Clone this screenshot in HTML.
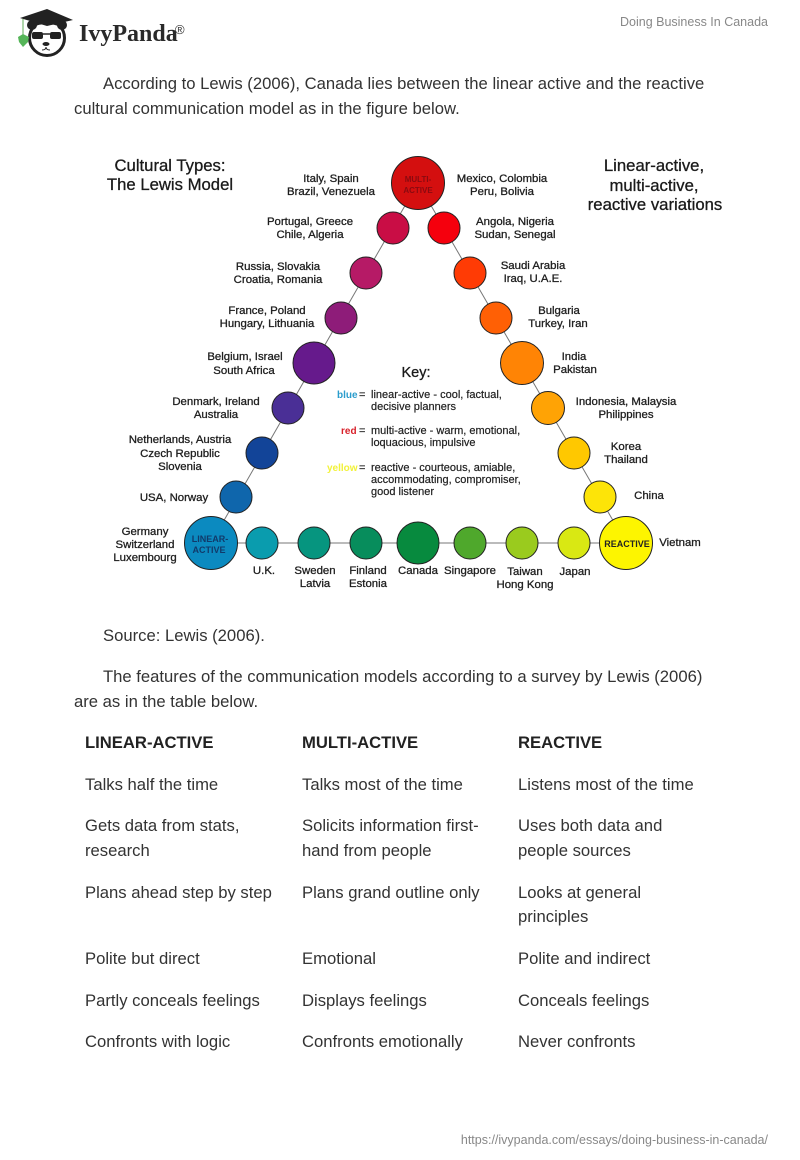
<!DOCTYPE html>
<html><head><meta charset="utf-8">
<style>
html,body{margin:0;padding:0;background:#fff}
body{width:800px;height:1160px;position:relative;overflow:hidden;font-family:"Liberation Sans",Arial,sans-serif;color:#333}
svg{position:absolute;left:0;top:0}
.t{position:absolute;font-size:16.65px;line-height:20px;white-space:nowrap;color:#333}
.b{font-weight:bold;color:#222}
</style></head><body>
<svg width="800" height="1160" viewBox="0 0 800 1160" font-family="Liberation Sans, Arial, sans-serif">
<!-- logo -->
<circle cx="47" cy="38" r="17.5" fill="#fff" stroke="#222" stroke-width="3"/>
<circle cx="32" cy="25" r="5" fill="#222"/><circle cx="62" cy="25" r="5" fill="#222"/>
<path d="M20 18L47 9L73 20L47 26Z" fill="#222"/>
<path d="M32 21L47 25L61 21V27Q47 21 32 27Z" fill="#222"/>
<rect x="32" y="32" width="11" height="7" rx="2" fill="#222"/><rect x="50" y="32" width="11" height="7" rx="2" fill="#222"/>
<path d="M43 34H50" stroke="#222" stroke-width="1.5"/>
<ellipse cx="46" cy="44" rx="3.5" ry="2" fill="#222"/>
<path d="M46 47Q46 50 42 50M46 47Q46 50 50 50" stroke="#222" stroke-width="1" fill="none"/>
<path d="M23 19V35" stroke="#5fae57" stroke-width="1"/>
<path d="M18 37L23 34L29 37L28 42L23 47L19 42Z" fill="#55b558"/>
<text x="79" y="41" font-family="Liberation Serif, serif" font-weight="bold" font-size="24" fill="#2a2a2a">IvyPanda</text>
<text x="175" y="34" font-size="13" fill="#333">®</text>
<text x="768" y="26" text-anchor="end" font-size="12.5" fill="#888">Doing Business In Canada</text>
<text x="768" y="1144" text-anchor="end" font-size="12.5" fill="#888">https://ivypanda.com/essays/doing-business-in-canada/</text>

<!-- connectors -->
<g stroke="#777" stroke-width="1" fill="none">
<path d="M418 183L211 543H626Z"/>
</g>
<!-- nodes -->
<g stroke="#222" stroke-width="1">
<circle cx="418" cy="183" r="26.5" fill="#d40f0f"/>
<circle cx="393" cy="228" r="16" fill="#c90d45"/>
<circle cx="366" cy="273" r="16" fill="#b61a66"/>
<circle cx="341" cy="318" r="16" fill="#8e1c79"/>
<circle cx="314" cy="363" r="21" fill="#661a8c"/>
<circle cx="288" cy="408" r="16" fill="#4a2f96"/>
<circle cx="262" cy="453" r="16" fill="#124498"/>
<circle cx="236" cy="497" r="16" fill="#0f66ac"/>
<circle cx="211" cy="543" r="26.5" fill="#0b8ac0"/>
<circle cx="262" cy="543" r="16" fill="#0a9cae"/>
<circle cx="314" cy="543" r="16" fill="#06957f"/>
<circle cx="366" cy="543" r="16" fill="#078d5c"/>
<circle cx="418" cy="543" r="21" fill="#078a3e"/>
<circle cx="470" cy="543" r="16" fill="#4fa82c"/>
<circle cx="522" cy="543" r="16" fill="#9acb1e"/>
<circle cx="574" cy="543" r="16" fill="#d9e813"/>
<circle cx="626" cy="543" r="26.5" fill="#fdf500"/>
<circle cx="600" cy="497" r="16" fill="#fde408"/>
<circle cx="574" cy="453" r="16" fill="#ffc800"/>
<circle cx="548" cy="408" r="16.5" fill="#ffa305"/>
<circle cx="522" cy="363" r="21.5" fill="#ff8405"/>
<circle cx="496" cy="318" r="16" fill="#ff6005"/>
<circle cx="470" cy="273" r="16" fill="#ff3b05"/>
<circle cx="444" cy="228" r="16" fill="#f5000d"/>
</g>
<!-- node inner labels -->
<g font-weight="bold" text-anchor="middle">
<text x="418" y="182" font-size="8" fill="#8a0a10">MULTI-</text>
<text x="418" y="193" font-size="8" fill="#8a0a10">ACTIVE</text>
<text x="210" y="542" font-size="9" fill="#113a6a">LINEAR-</text>
<text x="209" y="553" font-size="9" fill="#113a6a">ACTIVE</text>
<text x="627" y="547" font-size="9" fill="#222">REACTIVE</text>
</g>
<!-- titles -->
<g font-size="16.7" fill="#1a1a1a" text-anchor="middle" stroke="#1a1a1a" stroke-width=".3">
<text x="170" y="171">Cultural Types:</text>
<text x="170" y="190">The Lewis Model</text>
<text x="654" y="171">Linear-active,</text>
<text x="654" y="191">multi-active,</text>
<text x="655" y="210">reactive variations</text>
<text x="416" y="377" font-size="14.5">Key:</text>
</g>
<!-- country labels -->
<g font-size="11.4" fill="#1e1e1e" text-anchor="middle" stroke="#1e1e1e" stroke-width=".3">
<text x="331" y="182">Italy, Spain</text><text x="331" y="195">Brazil, Venezuela</text>
<text x="310" y="225">Portugal, Greece</text><text x="310" y="238">Chile, Algeria</text>
<text x="278" y="270">Russia, Slovakia</text><text x="278" y="283">Croatia, Romania</text>
<text x="267" y="314">France, Poland</text><text x="267" y="327">Hungary, Lithuania</text>
<text x="245" y="360">Belgium, Israel</text><text x="244" y="374">South Africa</text>
<text x="216" y="405">Denmark, Ireland</text><text x="216" y="418">Australia</text>
<text x="180" y="443">Netherlands, Austria</text><text x="180" y="457">Czech Republic</text><text x="180" y="470">Slovenia</text>
<text x="174" y="501">USA, Norway</text>
<text x="145" y="535">Germany</text><text x="145" y="548">Switzerland</text><text x="145" y="561">Luxembourg</text>
<text x="264" y="574">U.K.</text>
<text x="315" y="574">Sweden</text><text x="315" y="587">Latvia</text>
<text x="368" y="574">Finland</text><text x="368" y="587">Estonia</text>
<text x="418" y="574">Canada</text>
<text x="470" y="574">Singapore</text>
<text x="525" y="575">Taiwan</text><text x="525" y="588">Hong Kong</text>
<text x="575" y="575">Japan</text>
<text x="680" y="546">Vietnam</text>
<text x="649" y="499">China</text>
<text x="626" y="450">Korea</text><text x="626" y="463">Thailand</text>
<text x="626" y="405">Indonesia, Malaysia</text><text x="626" y="418">Philippines</text>
<text x="574" y="360">India</text><text x="575" y="373">Pakistan</text>
<text x="559" y="314">Bulgaria</text><text x="558" y="327">Turkey, Iran</text>
<text x="533" y="269">Saudi Arabia</text><text x="533" y="282">Iraq, U.A.E.</text>
<text x="515" y="225">Angola, Nigeria</text><text x="515" y="238">Sudan, Senegal</text>
<text x="502" y="182">Mexico, Colombia</text><text x="502" y="195">Peru, Bolivia</text>
</g>
<!-- key -->
<g font-size="11" fill="#222" stroke="#222" stroke-width=".2">
<text x="337" y="398" font-size="10" fill="#2a9ccc" stroke="none" font-weight="bold">blue</text><text x="359" y="398">=</text>
<text x="371" y="398">linear-active - cool, factual,</text><text x="371" y="410">decisive planners</text>
<text x="341" y="434" font-size="10" fill="#d8202a" stroke="none" font-weight="bold">red</text><text x="359" y="434">=</text>
<text x="371" y="434">multi-active - warm, emotional,</text><text x="371" y="446">loquacious, impulsive</text>
<text x="327" y="471" font-size="10" fill="#f2f23a" stroke="none" font-weight="bold">yellow</text><text x="359" y="471">=</text>
<text x="371" y="471">reactive - courteous, amiable,</text><text x="371" y="483">accommodating, compromiser,</text><text x="371" y="495">good listener</text>
</g>
</svg>

<div class="t" style="left:103px;top:74px">According to Lewis (2006), Canada lies between the linear active and the reactive</div>
<div class="t" style="left:74px;top:99px">cultural communication model as in the figure below.</div>
<div class="t" style="left:103px;top:626px">Source: Lewis (2006).</div>
<div class="t" style="left:103px;top:667px">The features of the communication models according to a survey by Lewis (2006)</div>
<div class="t" style="left:74px;top:692px">are as in the table below.</div>

<div class="t b" style="left:85px;top:733px">LINEAR-ACTIVE</div>
<div class="t b" style="left:302px;top:733px">MULTI-ACTIVE</div>
<div class="t b" style="left:518px;top:733px">REACTIVE</div>

<div class="t" style="left:85px;top:775px">Talks half the time</div>
<div class="t" style="left:302px;top:775px">Talks most of the time</div>
<div class="t" style="left:518px;top:775px">Listens most of the time</div>

<div class="t" style="left:85px;top:816px">Gets data from stats,</div>
<div class="t" style="left:85px;top:841px">research</div>
<div class="t" style="left:302px;top:816px">Solicits information first-</div>
<div class="t" style="left:302px;top:841px">hand from people</div>
<div class="t" style="left:518px;top:816px">Uses both data and</div>
<div class="t" style="left:518px;top:841px">people sources</div>

<div class="t" style="left:85px;top:883px">Plans ahead step by step</div>
<div class="t" style="left:302px;top:883px">Plans grand outline only</div>
<div class="t" style="left:518px;top:883px">Looks at general</div>
<div class="t" style="left:518px;top:907px">principles</div>

<div class="t" style="left:85px;top:949px">Polite but direct</div>
<div class="t" style="left:302px;top:949px">Emotional</div>
<div class="t" style="left:518px;top:949px">Polite and indirect</div>

<div class="t" style="left:85px;top:991px">Partly conceals feelings</div>
<div class="t" style="left:302px;top:991px">Displays feelings</div>
<div class="t" style="left:518px;top:991px">Conceals feelings</div>

<div class="t" style="left:85px;top:1032px">Confronts with logic</div>
<div class="t" style="left:302px;top:1032px">Confronts emotionally</div>
<div class="t" style="left:518px;top:1032px">Never confronts</div>
</body></html>
